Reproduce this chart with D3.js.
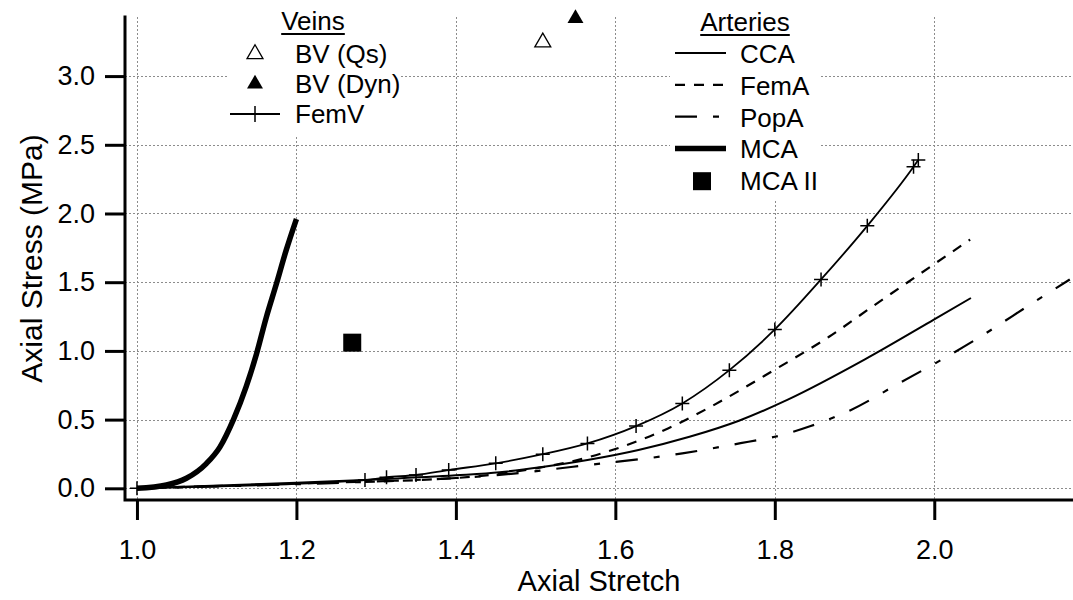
<!DOCTYPE html>
<html>
<head>
<meta charset="utf-8">
<script src="https://cdn.jsdelivr.net/npm/d3@7"></script>
<style>
  body { margin: 0; background: #fff; }
  svg { display: block; font-family: "Liberation Sans", Arial, sans-serif; }
</style>
</head>
<body>
<div id="chart"></div>
<script>
// curves (axial stretch, axial stress in MPa)
const ccaX = [1.0, 1.2, 1.3, 1.4, 1.455, 1.508, 1.565, 1.629, 1.693, 1.755, 1.817, 1.913, 2.0, 2.046];
const ccaY = [0, 0.04, 0.065, 0.095, 0.117, 0.155, 0.206, 0.279, 0.375, 0.492, 0.647, 0.938, 1.229, 1.385];

const femaX = [1.0, 1.2, 1.4, 1.5, 1.556, 1.611, 1.666, 1.721, 1.799, 1.868, 1.925, 2.045];
const femaY = [0, 0.035, 0.075, 0.145, 0.211, 0.308, 0.436, 0.598, 0.86, 1.103, 1.333, 1.81];

const popaX = [1.0, 1.2, 1.3, 1.4, 1.469, 1.547, 1.684, 1.767, 1.8, 1.845, 1.895, 1.959, 2.001, 2.051, 2.129, 2.17];
const popaY = [0, 0.03, 0.05, 0.075, 0.105, 0.157, 0.254, 0.339, 0.375, 0.453, 0.569, 0.775, 0.909, 1.079, 1.37, 1.52];

const mcaX = [1.0, 1.037, 1.062, 1.087, 1.104, 1.121, 1.137, 1.15, 1.162, 1.175, 1.187, 1.2];
const mcaY = [0, 0.024, 0.073, 0.18, 0.3, 0.5, 0.74, 0.98, 1.24, 1.49, 1.73, 1.96];

const femvX = [1.0, 1.286, 1.313, 1.35, 1.391, 1.45, 1.509, 1.565, 1.626, 1.684, 1.743, 1.8, 1.858, 1.916, 1.974, 1.98];
const femvY = [0, 0.06, 0.08, 0.097, 0.133, 0.182, 0.248, 0.327, 0.453, 0.618, 0.86, 1.156, 1.52, 1.91, 2.34, 2.39];

const bvQs = [1.509, 3.246];
const bvDyn = [1.55, 3.42];
const mca2 = [1.27, 1.06];

const xTicks = [1.0, 1.2, 1.4, 1.6, 1.8, 2.0];
const yTicks = [0.0, 0.5, 1.0, 1.5, 2.0, 2.5, 3.0];

const width = 1073, height = 600;
const plotLeft = 125, plotRight = 1073, plotTop = 17, plotBottom = 500;

const svg = d3.select("#chart").append("svg")
    .attr("width", width)
    .attr("height", height);

const x = d3.scaleLinear().domain([0.985, 2.174]).range([plotLeft, plotRight]);
const y = d3.scaleLinear().domain([-0.085, 3.43]).range([plotBottom, plotTop]);

const zip = (xs, ys) => xs.map((v, i) => [v, ys[i]]);

// grid
const grid = svg.append("g")
    .attr("stroke", "#8c8c8c")
    .attr("stroke-width", 1)
    .attr("stroke-dasharray", "2,2");
grid.selectAll("line.v").data(xTicks).enter().append("line")
    .attr("x1", d => Math.round(x(d)) + 0.5).attr("x2", d => Math.round(x(d)) + 0.5)
    .attr("y1", plotTop).attr("y2", plotBottom);
grid.selectAll("line.h").data(yTicks).enter().append("line")
    .attr("y1", d => Math.round(y(d)) + 0.5).attr("y2", d => Math.round(y(d)) + 0.5)
    .attr("x1", plotLeft).attr("x2", plotRight);

// axes
const xAxis = svg.append("g")
    .attr("transform", `translate(0,${plotBottom})`)
    .call(d3.axisBottom(x).tickValues(xTicks).tickFormat(d3.format(".1f"))
        .tickSize(20).tickSizeOuter(0).tickPadding(20));
const yAxis = svg.append("g")
    .attr("transform", `translate(${plotLeft},0)`)
    .call(d3.axisLeft(y).tickValues(yTicks).tickFormat(d3.format(".1f"))
        .tickSize(20).tickSizeOuter(0).tickPadding(10));

[xAxis, yAxis].forEach(g => {
    g.select(".domain").remove();
    g.selectAll(".tick line").attr("stroke", "#000").attr("stroke-width", 3);
    g.selectAll(".tick text").attr("fill", "#000").style("font-size", "27px")
        .style("font-family", "'Liberation Sans', Arial, sans-serif");
});

svg.append("path")
    .attr("d", `M${plotLeft},${plotTop}V${plotBottom}H${plotRight}`)
    .attr("fill", "none")
    .attr("stroke", "#000")
    .attr("stroke-width", 3)
    .attr("stroke-linecap", "square");

// axis titles, centred on their axes
svg.append("text")
    .attr("x", (plotLeft + plotRight) / 2).attr("y", 591)
    .attr("text-anchor", "middle")
    .style("font-size", "29px")
    .text("Axial Stretch");

svg.append("text")
    .attr("transform", `translate(42,${(plotTop + plotBottom) / 2}) rotate(-90)`)
    .attr("text-anchor", "middle")
    .style("font-size", "30px")
    .text("Axial Stress (MPa)");

// curves
const line = d3.line()
    .x(d => x(d[0]))
    .y(d => y(d[1]))
    .curve(d3.curveMonotoneX);

const series = [
    { name: "CCA", data: zip(ccaX, ccaY), width: 2, dash: null },
    { name: "FemA", data: zip(femaX, femaY), width: 2.2, dash: "10,9" },
    { name: "PopA", data: zip(popaX, popaY), width: 2.2, dash: "22,16,6,16" },
    { name: "MCA", data: zip(mcaX, mcaY), width: 5.5, dash: null },
    { name: "FemV", data: zip(femvX, femvY), width: 1.8, dash: null }
];

svg.append("g")
    .attr("fill", "none")
    .attr("stroke", "#000")
    .selectAll("path")
    .data(series)
    .enter().append("path")
    .attr("stroke-width", d => d.width)
    .attr("stroke-dasharray", d => d.dash)
    .attr("d", d => line(d.data));

const plus = (sel, s) => sel.attr("d", `M${-s},0H${s}M0,${-s}V${s}`)
    .attr("stroke", "#000").attr("stroke-width", 1.5).attr("fill", "none");

svg.append("g").selectAll("path")
    .data(zip(femvX, femvY))
    .enter().append("path")
    .attr("transform", d => `translate(${x(d[0])},${y(d[1])})`)
    .call(plus, 7);

const tri = d3.symbol().type(d3.symbolTriangle).size(110);

svg.append("path")
    .attr("transform", `translate(${x(bvQs[0])},${y(bvQs[1])})`)
    .attr("d", tri())
    .attr("fill", "#fff").attr("stroke", "#000").attr("stroke-width", 1.3);
svg.append("path")
    .attr("transform", `translate(${x(bvDyn[0])},${y(bvDyn[1])})`)
    .attr("d", tri())
    .attr("fill", "#000");
svg.append("rect")
    .attr("x", x(mca2[0]) - 9).attr("y", y(mca2[1]) - 9)
    .attr("width", 18).attr("height", 18)
    .attr("fill", "#000");

// legends, each on an opaque white box over the grid
const legend = svg.append("g").style("font-size", "26px");
legend.append("rect").attr("x", 227).attr("y", plotTop - 2).attr("width", 173).attr("height", 120).attr("fill", "#fff");
legend.append("rect").attr("x", 670).attr("y", plotTop - 2).attr("width", 150).attr("height", 185).attr("fill", "#fff");

function title(cx, baseline, label) {
    const t = legend.append("text").attr("x", cx).attr("y", baseline)
        .attr("text-anchor", "middle").text(label);
    const w = t.node().getComputedTextLength();
    legend.append("line")
        .attr("x1", cx - w / 2).attr("x2", cx + w / 2)
        .attr("y1", baseline + 4).attr("y2", baseline + 4)
        .attr("stroke", "#000").attr("stroke-width", 2);
}

title(313, 30, "Veins");
title(745, 31, "Arteries");

const veinRows = ["BV (Qs)", "BV (Dyn)", "FemV"];
veinRows.forEach((label, i) => {
    const base = 63 + i * 30;
    legend.append("text").attr("x", 295).attr("y", base).text(label);
    const cy = base - 9;
    if (i === 0) {
        legend.append("path").attr("transform", `translate(255,${cy})`).attr("d", tri())
            .attr("fill", "#fff").attr("stroke", "#000").attr("stroke-width", 1.3);
    } else if (i === 1) {
        legend.append("path").attr("transform", `translate(255,${cy})`).attr("d", tri())
            .attr("fill", "#000");
    } else {
        legend.append("line").attr("x1", 230).attr("x2", 280).attr("y1", cy).attr("y2", cy)
            .attr("stroke", "#000").attr("stroke-width", 1.8);
        legend.append("path").attr("transform", `translate(255,${cy})`).call(plus, 8);
    }
});

const arteryRows = ["CCA", "FemA", "PopA", "MCA", "MCA II"];
arteryRows.forEach((label, i) => {
    const base = 63 + i * 31.8;
    legend.append("text").attr("x", 740).attr("y", base).text(label);
    const cy = base - 10;
    if (i < 4) {
        const s = series.find(d => d.name === label);
        legend.append("line").attr("x1", 675).attr("x2", 726).attr("y1", cy).attr("y2", cy)
            .attr("stroke", "#000").attr("stroke-width", s.width)
            .attr("stroke-dasharray", s.dash);
    } else {
        legend.append("rect").attr("x", 693).attr("y", cy - 8).attr("width", 18).attr("height", 18)
            .attr("fill", "#000");
    }
});
</script>
</body>
</html>
